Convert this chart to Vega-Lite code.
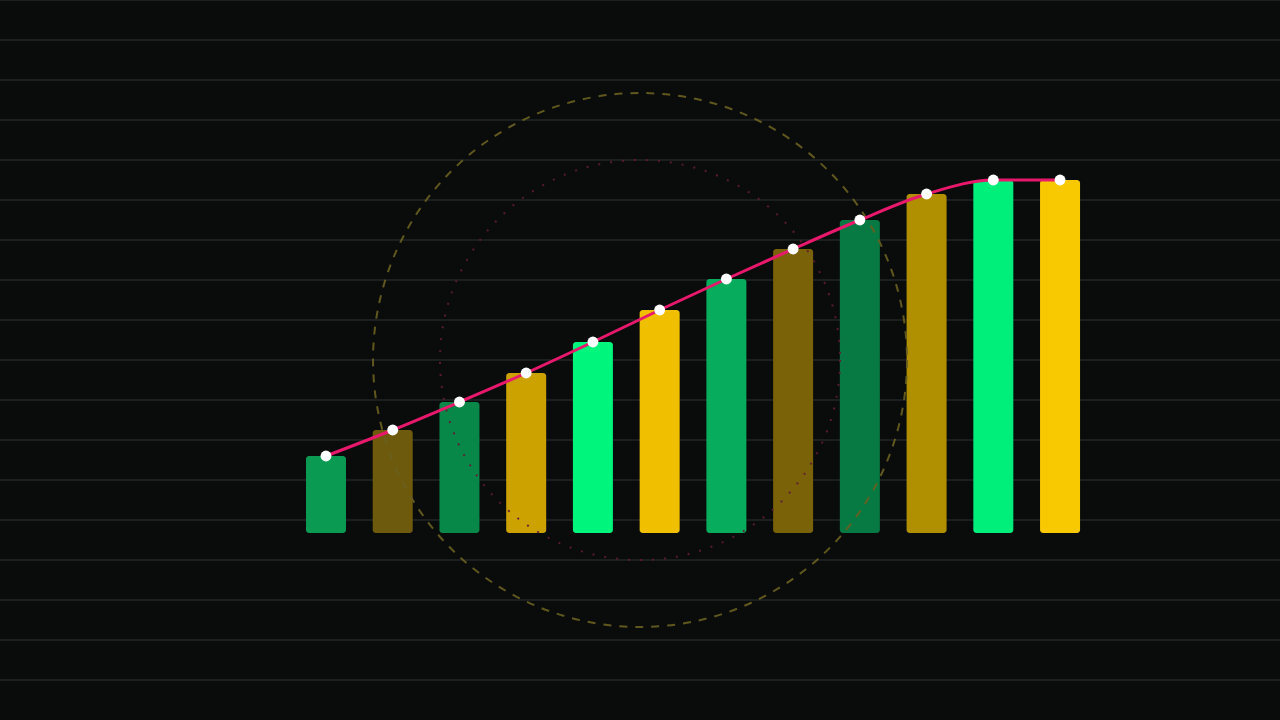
{
  "$schema": "https://vega.github.io/schema/vega-lite/v6.json",
  "width": 1280,
  "height": 720,
  "autosize": {"type": "none"},
  "padding": 0,
  "background": "#0a0c0c",
  "config": {"view": {"stroke": null}},
  "datasets": {
    "bars": [
      {"step": 1, "value": 77},
      {"step": 2, "value": 103},
      {"step": 3, "value": 131},
      {"step": 4, "value": 160},
      {"step": 5, "value": 191},
      {"step": 6, "value": 223},
      {"step": 7, "value": 254},
      {"step": 8, "value": 284},
      {"step": 9, "value": 313},
      {"step": 10, "value": 339},
      {"step": 11, "value": 353},
      {"step": 12, "value": 353}
    ],
    "grid": [
      {"level": 533}, {"level": 493}, {"level": 453}, {"level": 413},
      {"level": 373}, {"level": 333}, {"level": 293}, {"level": 253},
      {"level": 213}, {"level": 173}, {"level": 133}, {"level": 93},
      {"level": 53}, {"level": 13}, {"level": -27}, {"level": -67},
      {"level": -107}, {"level": -147}
    ],
    "rings": [
      {"ring": "outer", "cx": 5.706, "cy": 173},
      {"ring": "inner", "cx": 5.706, "cy": 173}
    ]
  },
  "resolve": {"scale": {"color": "independent"}},
  "layer": [
    {
      "data": {"name": "grid"},
      "mark": {"type": "rule", "color": "#222626", "strokeWidth": 1.5},
      "encoding": {
        "y": {"field": "level", "type": "quantitative", "scale": {"domain": [-187, 533], "nice": false, "zero": false, "padding": 0}, "axis": null}
      }
    },
    {
      "data": {"name": "bars"},
      "mark": {"type": "bar", "width": 40, "cornerRadius": 3},
      "encoding": {
        "x": {"field": "step", "type": "quantitative", "scale": {"domain": [-3.885, 15.296], "nice": false, "zero": false, "padding": 0}, "axis": null},
        "y": {"field": "value", "type": "quantitative", "axis": null},
        "y2": {"datum": 0},
        "color": {
          "field": "step", "type": "nominal", "legend": null,
          "scale": {
            "domain": [1, 2, 3, 4, 5, 6, 7, 8, 9, 10, 11, 12],
            "range": ["#0a9a52", "#6e5a0c", "#078848", "#cba200", "#00f57c", "#f0c000", "#07ac5c", "#7a6208", "#067a42", "#b09000", "#00ee7a", "#f8c800"]
          }
        }
      }
    },
    {
      "data": {"name": "rings"},
      "transform": [{"filter": "datum.ring === 'outer'"}],
      "mark": {"type": "point", "shape": "circle", "size": 285156, "filled": false, "stroke": "#6a6020", "strokeWidth": 2, "strokeDash": [8, 8], "opacity": 0.9},
      "encoding": {
        "x": {"field": "cx", "type": "quantitative", "axis": null},
        "y": {"field": "cy", "type": "quantitative", "axis": null}
      }
    },
    {
      "data": {"name": "rings"},
      "transform": [{"filter": "datum.ring === 'inner'"}],
      "mark": {"type": "point", "shape": "circle", "size": 160000, "filled": false, "stroke": "#601c34", "strokeWidth": 2, "strokeDash": [2, 10], "opacity": 0.9},
      "encoding": {
        "x": {"field": "cx", "type": "quantitative", "axis": null},
        "y": {"field": "cy", "type": "quantitative", "axis": null}
      }
    },
    {
      "data": {"name": "bars"},
      "mark": {"type": "line", "color": "#e8186c", "strokeWidth": 3, "interpolate": "monotone"},
      "encoding": {
        "x": {"field": "step", "type": "quantitative", "axis": null},
        "y": {"field": "value", "type": "quantitative", "axis": null}
      }
    },
    {
      "data": {"name": "bars"},
      "mark": {"type": "point", "shape": "circle", "filled": true, "color": "#ffffff", "opacity": 1, "size": 120},
      "encoding": {
        "x": {"field": "step", "type": "quantitative", "axis": null},
        "y": {"field": "value", "type": "quantitative", "axis": null}
      }
    }
  ]
}
